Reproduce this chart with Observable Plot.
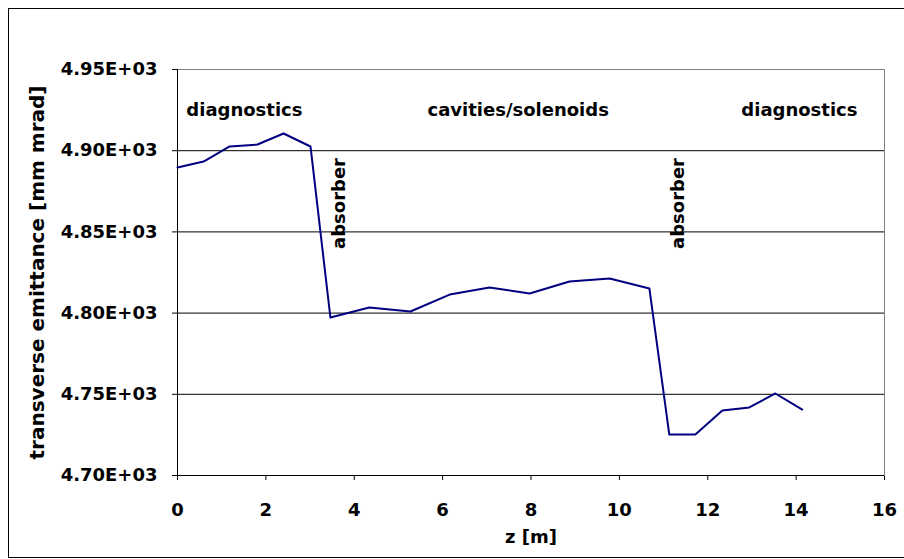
<!DOCTYPE html>
<html>
<head>
<meta charset="utf-8">
<script src="https://cdn.jsdelivr.net/npm/d3@7"></script>
<script src="https://cdn.jsdelivr.net/npm/@observablehq/plot@0.6"></script>
<style>
  html, body { margin: 0; padding: 0; background: #fff; }
  #wrap { position: relative; width: 904px; height: 559px; overflow: hidden; }
  #border { position: absolute; left: 8px; top: 8px; width: 910px; height: 548px;
            border: 1px solid #000; pointer-events: none; }
</style>
</head>
<body>
<div id="wrap"><div id="chart"></div><div id="border"></div></div>
<script>
// z positions [m]
const z = [0, 0.59, 1.18, 1.81, 2.40, 3.01, 3.46, 4.34, 5.27, 6.16, 7.06, 7.97, 8.87, 9.78, 10.68, 11.13, 11.72, 12.33, 12.94, 13.53, 14.14];
// transverse emittance [mm mrad]
const emittance = [4889.7, 4893.3, 4902.6, 4903.8, 4910.6, 4902.6, 4797.3, 4803.4, 4801.0, 4811.4, 4815.8, 4812.1, 4819.5, 4821.3, 4815.1, 4725.2, 4725.2, 4740.0, 4741.9, 4750.5, 4740.6];

const xTicks = [0, 2, 4, 6, 8, 10, 12, 14, 16];
const yTicks = [4700, 4750, 4800, 4850, 4900, 4950];

// horizontal region labels
const regionLabels = ["diagnostics", "cavities/solenoids", "diagnostics"];
const regionZ = [0.2, 7.71, 12.76];
const regionY = [4925, 4925, 4925];
const regionAnchor = ["start", "middle", "start"];
// vertical absorber labels
const absorberLabels = ["absorber", "absorber"];
const absorberZ = [3.67, 11.34];
const absorberY = [4867.5, 4867.5];

const series = z.map((v, i) => ({z: v, e: emittance[i]}));
const regions = regionLabels.map((t, i) => ({t, z: regionZ[i], y: regionY[i], a: regionAnchor[i]}));
const absorbers = absorberLabels.map((t, i) => ({t, z: absorberZ[i], y: absorberY[i]}));

const fmtY = d => (d / 1000).toFixed(2) + "E+03";

const chart = Plot.plot({
  width: 904,
  height: 559,
  marginLeft: 177,
  marginRight: 20,
  marginTop: 69,
  marginBottom: 84,
  style: {fontFamily: "'DejaVu Sans', Arial, sans-serif", fontWeight: "bold", fontSize: "18px", color: "#000", background: "transparent"},
  x: {domain: [0, 16], ticks: xTicks, tickSize: 5, tickPadding: 23, label: null},
  y: {domain: [4700, 4950], ticks: yTicks, tickSize: 5, tickPadding: 15, tickFormat: fmtY, label: null},
  marks: [
    Plot.ruleY(yTicks, {stroke: "#000", strokeWidth: 1}),
    Plot.frame({stroke: "#808080"}),
    Plot.ruleX([0], {stroke: "#000"}),
    Plot.ruleY([4700], {stroke: "#000"}),
    Plot.line(series, {x: "z", y: "e", stroke: "#000080", strokeWidth: 2}),
    Plot.text(regions.filter(d => d.a === "start"), {x: "z", y: "y", text: "t", textAnchor: "start", lineAnchor: "middle", fontSize: 18, fontWeight: "bold"}),
    Plot.text(regions.filter(d => d.a === "middle"), {x: "z", y: "y", text: "t", textAnchor: "middle", lineAnchor: "middle", fontSize: 18, fontWeight: "bold"}),
    Plot.text(absorbers, {x: "z", y: "y", text: "t", rotate: -90, textAnchor: "middle", lineAnchor: "middle", fontSize: 18, fontWeight: "bold"}),
    Plot.text(["transverse emittance [mm mrad]"], {frameAnchor: "left", dx: -140, rotate: -90, textAnchor: "middle", lineAnchor: "middle", fontSize: 20, fontWeight: "bold"}),
    Plot.text(["z [m]"], {frameAnchor: "bottom", dy: 62, textAnchor: "middle", lineAnchor: "middle", fontSize: 18, fontWeight: "bold"})
  ]
});
document.getElementById("chart").appendChild(chart);
</script>
</body>
</html>
